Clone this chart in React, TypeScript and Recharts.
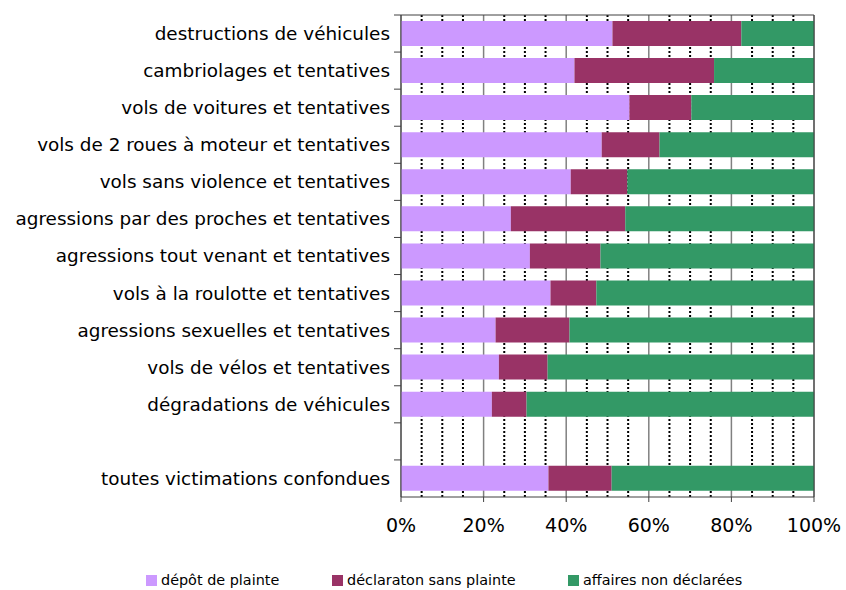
import React from 'react'
import { Bar, BarChart, CartesianGrid, Legend, XAxis, YAxis } from 'recharts'

const categories = [
    'destructions de véhicules',
    'cambriolages et tentatives',
    'vols de voitures et tentatives',
    'vols de 2 roues à moteur et tentatives',
    'vols sans violence et tentatives',
    'agressions par des proches et tentatives',
    'agressions tout venant et tentatives',
    'vols à la roulotte et tentatives',
    'agressions sexuelles et tentatives',
    'vols de vélos et tentatives',
    'dégradations de véhicules',
    '',
    'toutes victimations confondues',
]

const seriesNames = ['dépôt de plainte', 'déclaraton sans plainte', 'affaires non déclarées']

const depotPlainte = [51.2, 42.0, 55.3, 48.6, 41.1, 26.6, 31.2, 36.2, 22.9, 23.7, 22.0, null, 35.7]
const declarationSansPlainte = [31.2, 33.8, 15.0, 14.0, 13.7, 27.7, 17.1, 11.1, 17.9, 11.8, 8.4, null, 15.3]
const nonDeclarees = [17.6, 24.2, 29.7, 37.4, 45.2, 45.7, 51.7, 52.7, 59.2, 64.5, 69.6, null, 49.0]

const majorTicks = [0, 20, 40, 60, 80, 100]
const minorTicks = [5, 10, 15, 25, 30, 35, 45, 50, 55, 65, 70, 75, 85, 90, 95]

const data = categories.map((name, i) => ({
    name,
    depot: depotPlainte[i],
    declaration: declarationSansPlainte[i],
    nonDeclarees: nonDeclarees[i],
}))

const FONT = '"DejaVu Sans", sans-serif'

const CategoryTick = (props: any) => {
    const { x, y, payload } = props
    const half = payload.offset || 0
    return (
        <g>
            <line x1={x + 4} x2={x + 11} y1={y - half} y2={y - half} stroke='#404040' />
            <text x={x} y={y} dy='0.35em' textAnchor='end' fontSize={18.4} fill='#000' fontFamily={FONT}>
                {payload.value}
            </text>
        </g>
    )
}

const LegendContent = (props: any) => {
    const items = [...(props.payload || [])].sort(
        (a: any, b: any) => seriesNames.indexOf(a.value) - seriesNames.indexOf(b.value)
    )
    const starts = [146, 332, 568]
    return (
        <div style={{ position: 'relative', height: 20, fontFamily: FONT, fontSize: 14.4, color: '#000' }}>
            {items.map((it: any, i: number) => (
                <div key={i} style={{ position: 'absolute', left: starts[i], top: 0, display: 'flex', alignItems: 'center', height: 20 }}>
                    <span style={{ width: 11, height: 11, background: it.color, display: 'inline-block', marginRight: 4 }} />
                    <span>{it.value}</span>
                </div>
            ))}
        </div>
    )
}

const App: React.FC = () => {
    return (
        <div style={{ position: 'absolute', left: 0, top: 0, width: 846, height: 590, background: '#fff' }}>
            <BarChart
                width={846}
                height={590}
                data={data}
                layout='vertical'
                barCategoryGap='16%'
                margin={{ top: 14, right: 31, left: 0, bottom: 0 }}
            >
                <CartesianGrid horizontal={false} verticalValues={minorTicks} stroke='#000' strokeWidth={2} strokeDasharray='2 2' />
                <CartesianGrid horizontal={false} stroke='#808080' strokeWidth={1.5} />
                <XAxis
                    type='number'
                    domain={[0, 100]}
                    ticks={majorTicks}
                    tickFormatter={(v) => `${v}%`}
                    interval={0}
                    height={73}
                    tickSize={5}
                    tickMargin={17}
                    axisLine={{ stroke: '#404040' }}
                    tickLine={{ stroke: '#404040' }}
                    tick={{ fill: '#000', fontSize: 19, fontFamily: FONT }}
                />
                <XAxis xAxisId='top' orientation='top' type='number' domain={[0, 100]} tick={false} tickLine={false} height={1} axisLine={{ stroke: '#404040' }} />
                <YAxis
                    type='category'
                    dataKey='name'
                    width={401}
                    interval={0}
                    tickLine={false}
                    tickMargin={5}
                    axisLine={{ stroke: '#404040' }}
                    tick={<CategoryTick />}
                />
                <YAxis yAxisId='right' orientation='right' type='number' domain={[0, 1]} tick={false} tickLine={false} width={1} axisLine={{ stroke: '#404040' }} />
                <Legend verticalAlign='bottom' content={<LegendContent />} />
                <Bar dataKey='depot' name={seriesNames[0]} stackId='a' fill='#CC99FF' isAnimationActive={false} />
                <Bar dataKey='declaration' name={seriesNames[1]} stackId='a' fill='#993366' isAnimationActive={false} />
                <Bar dataKey='nonDeclarees' name={seriesNames[2]} stackId='a' fill='#339966' isAnimationActive={false} />
            </BarChart>
        </div>
    )
}

export default App
